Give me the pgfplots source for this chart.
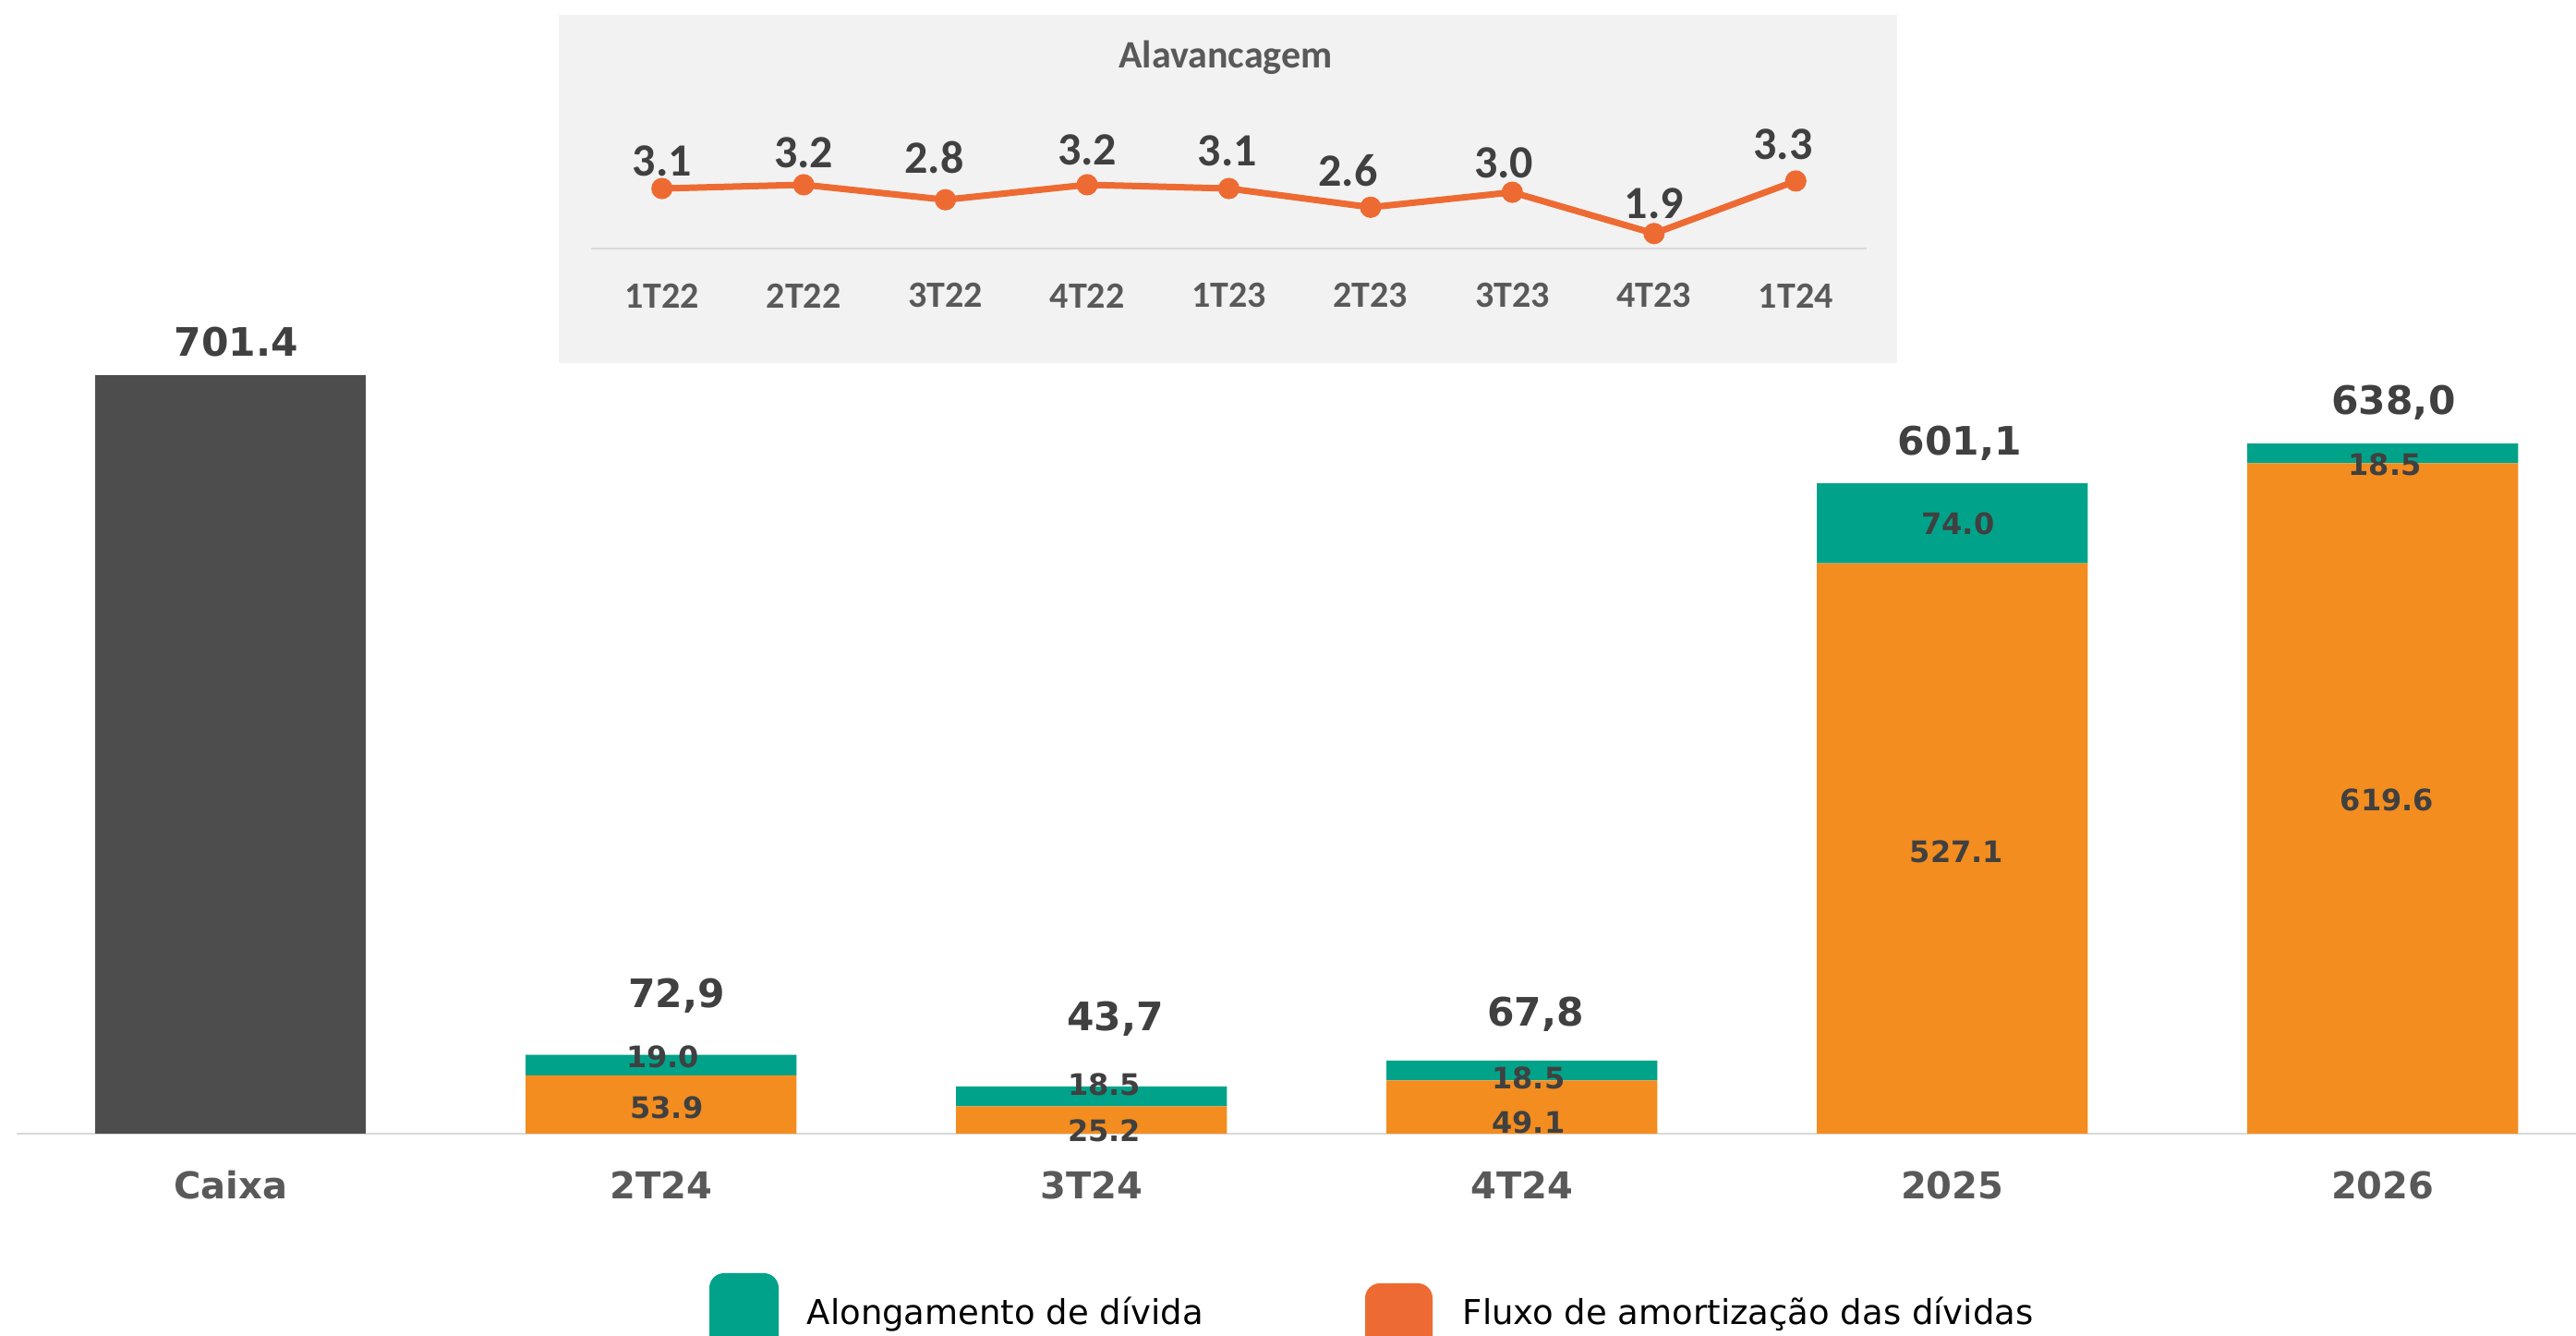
\documentclass[border=0pt]{standalone}
\usepackage{pgfplots}
\pgfplotsset{compat=1.18}
\usepackage{fontspec}
\setmainfont{DejaVu Sans}
\newfontfamily\carlito{Carlito}
\definecolor{cxgray}{HTML}{4D4D4D}
\definecolor{borange}{HTML}{F38D20}
\definecolor{bgreen}{HTML}{00A389}
\definecolor{lorange}{HTML}{ED6B33}
\definecolor{txtdark}{HTML}{404040}
\definecolor{txtgray}{HTML}{595959}
\definecolor{insetbg}{HTML}{F2F2F2}
\definecolor{axisgray}{HTML}{D9D9D9}
\begin{document}
\begin{tikzpicture}[x=1pt,y=1pt]
\useasboundingbox (0,0) rectangle (697.25,361.5);
\fill[insetbg] (151.25,263.25) rectangle (513.5,357.5);
% ---------- main bars ----------
\begin{axis}[
  at={(4.5pt,54.75pt)}, anchor=south west,
  scale only axis, width=692.75pt, height=222.5pt,
  xmin=-0.4974, xmax=5.449, ymin=0, ymax=760,
  ybar stacked, bar width=0.629,
  axis x line*=bottom, hide y axis,
  axis line style={axisgray, line width=0.5pt, -},
  xtick={0,1,2,3,4,5}, xticklabels={Caixa,2T24,3T24,4T24,2025,2026},
  xtick style={draw=none},
  x tick label style={font=\bfseries\fontsize{10}{12}\selectfont, text=txtgray, anchor=center, yshift=-13.9pt},
]
\addplot[fill=cxgray, draw=none] coordinates {(0,701.4) (1,0) (2,0) (3,0) (4,0) (5,0)};
\addplot[fill=borange, draw=none] coordinates {(0,0) (1,53.9) (2,25.2) (3,49.1) (4,527.1) (5,619.6)};
\addplot[fill=bgreen, draw=none] coordinates {(0,0) (1,19.0) (2,18.5) (3,18.5) (4,74.0) (5,18.5)};
\end{axis}
% ---------- main labels ----------
\begin{axis}[
  at={(4.5pt,54.75pt)}, anchor=south west,
  scale only axis, width=692.75pt, height=222.5pt,
  xmin=-0.4974, xmax=5.449, ymin=0, ymax=760,
  hide axis, clip=false,
]
\addplot[draw=none, mark=none, nodes near coords, point meta=explicit symbolic,
  every node near coord/.append style={anchor=center, inner sep=0pt, font=\bfseries\fontsize{10.6}{12}\selectfont, text=txtdark}]
  table[meta=lab] {
x y lab
0.013 731.9 701.4
1.036 127.3 72,9
2.055 106.1 43,7
3.032 110.6 67,8
4.017 637.7 601,1
5.025 675.7 638,0
};
\addplot[draw=none, mark=none, nodes near coords, point meta=explicit symbolic,
  every node near coord/.append style={anchor=center, inner sep=0pt, font=\bfseries\fontsize{8}{10}\selectfont, text=txtdark}]
  table[meta=lab] {
x y lab
1.004 71.1 19.0
1.013 24.1 53.9
2.03 45.3 18.5
2.03 2.7 25.2
3.015 51.4 18.5
3.015 10.3 49.1
4.013 563.3 74.0
4.01 261 527.1
5.005 618 18.5
5.01 308 619.6
};
\end{axis}
% ---------- inset ----------
\node[font=\carlito\bfseries\fontsize{10.5}{12}\selectfont, text=txtgray] at (331.75,346) {Alavancagem};
\begin{axis}[
  at={(160pt,294.25pt)}, anchor=south west,
  scale only axis, width=345.25pt, height=30.45pt,
  xmin=-0.5, xmax=8.5, ymin=1.5, ymax=4.5,
  axis x line*=bottom, hide y axis,
  axis line style={axisgray, line width=0.5pt, -},
  xtick={0,1,2,3,4,5,6,7,8},
  xticklabels={1T22,2T22,3T22,4T22,1T23,2T23,3T23,4T23,1T24},
  xtick style={draw=none},
  x tick label style={font=\carlito\bfseries\fontsize{10}{12}\selectfont, text=txtgray, anchor=center, yshift=-12.75pt},
  clip=false,
]
\addplot[lorange, line width=1.75pt, mark=*, mark size=2pt, mark options={fill=lorange, draw=lorange}]
  coordinates {(0,3.1) (1,3.2) (2,2.8) (3,3.2) (4,3.1) (5,2.6) (6,3.0) (7,1.9) (8,3.3)};
\addplot[draw=none, mark=none, nodes near coords, point meta=explicit symbolic,
  every node near coord/.append style={anchor=center, inner sep=0pt, font=\carlito\bfseries\fontsize{12.5}{14}\selectfont, text=txtdark}]
  table[meta=lab] {
x y lab
0 3.83 3.1
1 4.05 3.2
1.92 3.92 2.8
3 4.14 3.2
3.99 4.10 3.1
4.84 3.57 2.6
5.94 3.79 3.0
7 2.69 1.9
7.91 4.27 3.3
};
\end{axis}
% ---------- legend ----------
\fill[bgreen, rounded corners=4pt] (192,-6) rectangle (210.75,17);
\fill[lorange, rounded corners=4pt] (369.5,-6) rectangle (387.75,14.25);
\node[anchor=base west, inner sep=0pt, font=\fontsize{9.25}{11}\selectfont, text=black] at (218.25,3.1) {Alongamento de dívida};
\node[anchor=base west, inner sep=0pt, font=\fontsize{9.25}{11}\selectfont, text=black] at (395.75,3.1) {Fluxo de amortização das dívidas};
\end{tikzpicture}
\end{document}
